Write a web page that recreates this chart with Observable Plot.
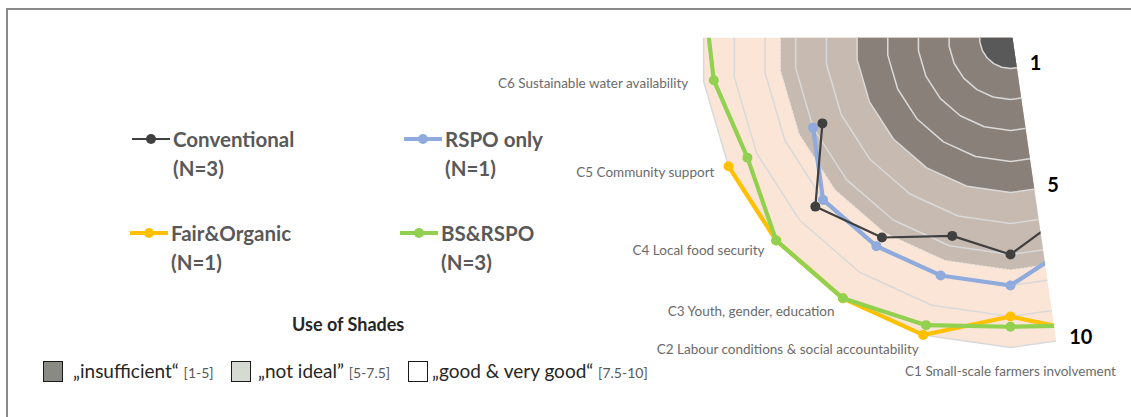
<!DOCTYPE html>
<html>
<head>
<meta charset="utf-8">
<script src="https://cdn.jsdelivr.net/npm/d3@7"></script>
<script src="https://cdn.jsdelivr.net/npm/@observablehq/plot@0.6"></script>
<style>
  body { margin: 0; background: #fff; }
  #wrap { position: relative; width: 1131px; height: 417px; overflow: hidden; font-family: Lato, "Open Sans", sans-serif; }
  #frame { position: absolute; left: 6px; top: 8px; width: 1200px; height: 500px; border-top: 2px solid #8a8a8a; border-left: 2px solid #8a8a8a; }
  #wrap svg.chart { position: absolute; left: 0; top: 0; }
  .leg { position: absolute; color: #595959; font-weight: 700; font-size: 20.5px; line-height: 29px; white-space: nowrap; }
  .legmark { position: absolute; }
  .shadeTitle { position: absolute; font-weight: 700; font-size: 18px; color: #262626; white-space: nowrap; }
  .box { position: absolute; width: 18px; height: 19px; border: 1.5px solid #1a1a1a; }
  .shadeText { position: absolute; font-size: 19px; color: #262626; white-space: nowrap; }
  .shadeText small { font-size: 14px; color: #595959; }
</style>
</head>
<body>
<div id="wrap"><div id="frame"></div></div>
<script>
// ---------- data ----------
const categories = [
  "C1 Small-scale farmers involvement",
  "C2 Labour conditions & social accountability",
  "C3 Youth, gender, education",
  "C4 Local food security",
  "C5 Community support",
  "C6 Sustainable water availability"
];
const axisCount = 22;                         // radar has 22 criteria, only a part is shown
const axisKeys  = ["C22", "C1", "C2", "C3", "C4", "C5", "C6", "C7"];
const axisIndex = [-1, 0, 1, 2, 3, 4, 5, 6];

const seriesNames  = ["Conventional", "RSPO only", "Fair&Organic", "BS&RSPO"];
const seriesN      = [3, 1, 1, 3];
const seriesColors = ["#404040", "#8faadc", "#ffc000", "#92d050"];

//                    C22   C1    C2    C3    C4    C5    C6    C7
const conventional = [6.0,  7.0,  6.67, 7.67, 8.33, 6.67, null, null];
const rspoOnly     = [7.0,  8.0,  8.0,  8.0,  8.0,  7.0,  null, null];
const fairOrganic  = [10,   9.0,  10,   10,   10,   10,   null, null];
const bsRspo       = [9.67, 9.33, 9.67, 10,   10,   9.33, 9.67, 10];
const seriesValues = [conventional, rspoOnly, fairOrganic, bsRspo];

const ringValues = [1, 2, 3, 4, 5, 6, 7, 8, 9, 10];
const shadeLimits = [10, 7.5, 5, 1];
const shadeColors = ["#fbe5d6", "#c7bab1", "#8a807a", "#595959"];
const tickValues = [1, 5, 10];
const tickLabels = ["1", "5", "10"];

const shadeLegend = [
  {label: "„insufficient“", range: "[1-5]", fill: "#898a84"},
  {label: "„not ideal”", range: "[5-7.5]", fill: "#d5dad3"},
  {label: "„good & very good“", range: "[7.5-10]", fill: "#ffffff"}
];

// ---------- geometry helpers ----------
const W = 1131, H = 417;
const cx = 1010, cy = 37, unit = 31;      // centre of the radar & px per score point
const step = 2 * Math.PI / axisCount;
function polar(k, v) {                     // axis k, value v -> chart coords (C1 points down, clockwise)
  const t = k * step;
  return {x: -v * Math.sin(t), y: v * Math.cos(t)};
}
function ring(v) {
  const pts = [];
  for (let k = 0; k < axisCount; k++) pts.push(polar(k, v));
  return pts;
}

const lineData = [], dotData = [];
seriesValues.forEach((vals, s) => {
  vals.forEach((v, i) => {
    if (v == null) { lineData.push({series: s, x: NaN, y: NaN}); return; }
    const p = polar(axisIndex[i], v);
    lineData.push({series: s, ...p});
    dotData.push({series: s, ...p});
  });
});
const drawOrder = [2, 3, 1, 0];

const labelData = categories.map((c, i) => ({label: c, ...polar(i, 10.5)}));
const bis = Math.cos(step / 2);
const tickData = tickValues.map((v, i) => ({label: tickLabels[i], ...polar(-0.5, v * bis)}));

const marks = [];
shadeLimits.forEach((v, i) => marks.push(Plot.line(ring(v), {x: "x", y: "y", curve: "linear-closed", fill: shadeColors[i], stroke: "none"})));
ringValues.forEach(v => marks.push(Plot.line(ring(v), {x: "x", y: "y", curve: "linear-closed", stroke: "#d9d9d9", strokeWidth: 1.5})));
marks.push(Plot.line(ring(7.5), {x: "x", y: "y", curve: "linear-closed", stroke: "#ece3dc", strokeWidth: 1.2, strokeDasharray: "2,2"}));
drawOrder.forEach(s => {
  const w = s === 0 ? 2.2 : 4.2;
  marks.push(Plot.line(lineData.filter(d => d.series === s), {x: "x", y: "y", stroke: seriesColors[s], strokeWidth: w, strokeLinejoin: "round"}));
  marks.push(Plot.dot(dotData.filter(d => d.series === s), {x: "x", y: "y", r: 5, fill: seriesColors[s], stroke: "none"}));
});
marks.push(Plot.text(labelData.slice(0, 1), {x: "x", y: "y", text: "label", textAnchor: "middle", lineAnchor: "top", dy: 3, fontSize: 13.5, fill: "#6b6b6b"}));
marks.push(Plot.text(labelData.slice(1), {x: "x", y: "y", text: "label", textAnchor: "end", lineAnchor: "middle", fontSize: 13.5, fill: "#6b6b6b"}));
marks.push(Plot.text(tickData, {x: "x", y: "y", text: "label", textAnchor: "start", dx: 15, dy: -4, fontSize: 20, fontWeight: "bold", fill: "#000"}));

const plot = Plot.plot({
  width: W, height: H, margin: 0,
  style: {background: "transparent", fontFamily: "Lato, 'Open Sans', sans-serif", overflow: "visible"},
  x: {domain: [-cx / unit, (W - cx) / unit], range: [0, W], axis: null},
  y: {domain: [-cy / unit, (H - cy) / unit], range: [0, H], axis: null},
  marks
});
plot.classList.add("chart");
const wrap = document.getElementById("wrap");
wrap.appendChild(plot);

// clip the radar to the visible wedge (top edge through the centre, right edge along the C22/C1 bisector)
const svg = d3.select(plot);
const sx = plot.scale("x"), sy = plot.scale("y");
const px = sx.apply(0) + 2, py = sy.apply(0);
const slope = Math.tan(step / 2), bottom = H + 40;
svg.insert("defs", ":first-child").append("clipPath").attr("id", "wedge")
  .append("polygon").attr("points",
    [[-40, py], [px, py], [px + slope * (bottom - py), bottom], [-40, bottom]].map(p => p.join(",")).join(" "));
svg.selectAll('g[aria-label="line"], g[aria-label="dot"]').attr("clip-path", "url(#wedge)");

// ---------- legends (HTML overlay) ----------
const legendPos = [{left: 132, top: 139}, {left: 404, top: 139}, {left: 130, top: 233}, {left: 400, top: 233}];
seriesNames.forEach((name, s) => {
  const p = legendPos[s];
  const w = s === 0 ? 2.2 : 3.8;
  const m = document.createElement("div");
  m.className = "legmark";
  m.style.left = p.left + "px"; m.style.top = (p.top - 8) + "px";
  m.innerHTML = `<svg width="38" height="16"><line x1="0" x2="38" y1="8" y2="8" stroke="${seriesColors[s]}" stroke-width="${w}"/><circle cx="19" cy="8" r="5" fill="${seriesColors[s]}"/></svg>`;
  wrap.appendChild(m);
  const t = document.createElement("div");
  t.className = "leg";
  t.style.left = (p.left + 41) + "px"; t.style.top = (p.top - 14.5) + "px";
  t.innerHTML = `${name.replace("&", "&amp;")}<br>(N=${seriesN[s]})`;
  wrap.appendChild(t);
});

const st = document.createElement("div");
st.className = "shadeTitle"; st.textContent = "Use of Shades";
st.style.left = "292px"; st.style.top = "313px";
wrap.appendChild(st);
const shadePos = [{box: 43, text: 73}, {box: 231, text: 258}, {box: 408, text: 432}];
shadeLegend.forEach((d, i) => {
  const b = document.createElement("div");
  b.className = "box"; b.style.left = shadePos[i].box + "px"; b.style.top = "361px"; b.style.background = d.fill;
  wrap.appendChild(b);
  const t = document.createElement("div");
  t.className = "shadeText"; t.style.left = shadePos[i].text + "px"; t.style.top = "359px";
  t.innerHTML = `${d.label.replace("&", "&amp;")} <small>${d.range}</small>`;
  wrap.appendChild(t);
});
</script>
</body>
</html>
